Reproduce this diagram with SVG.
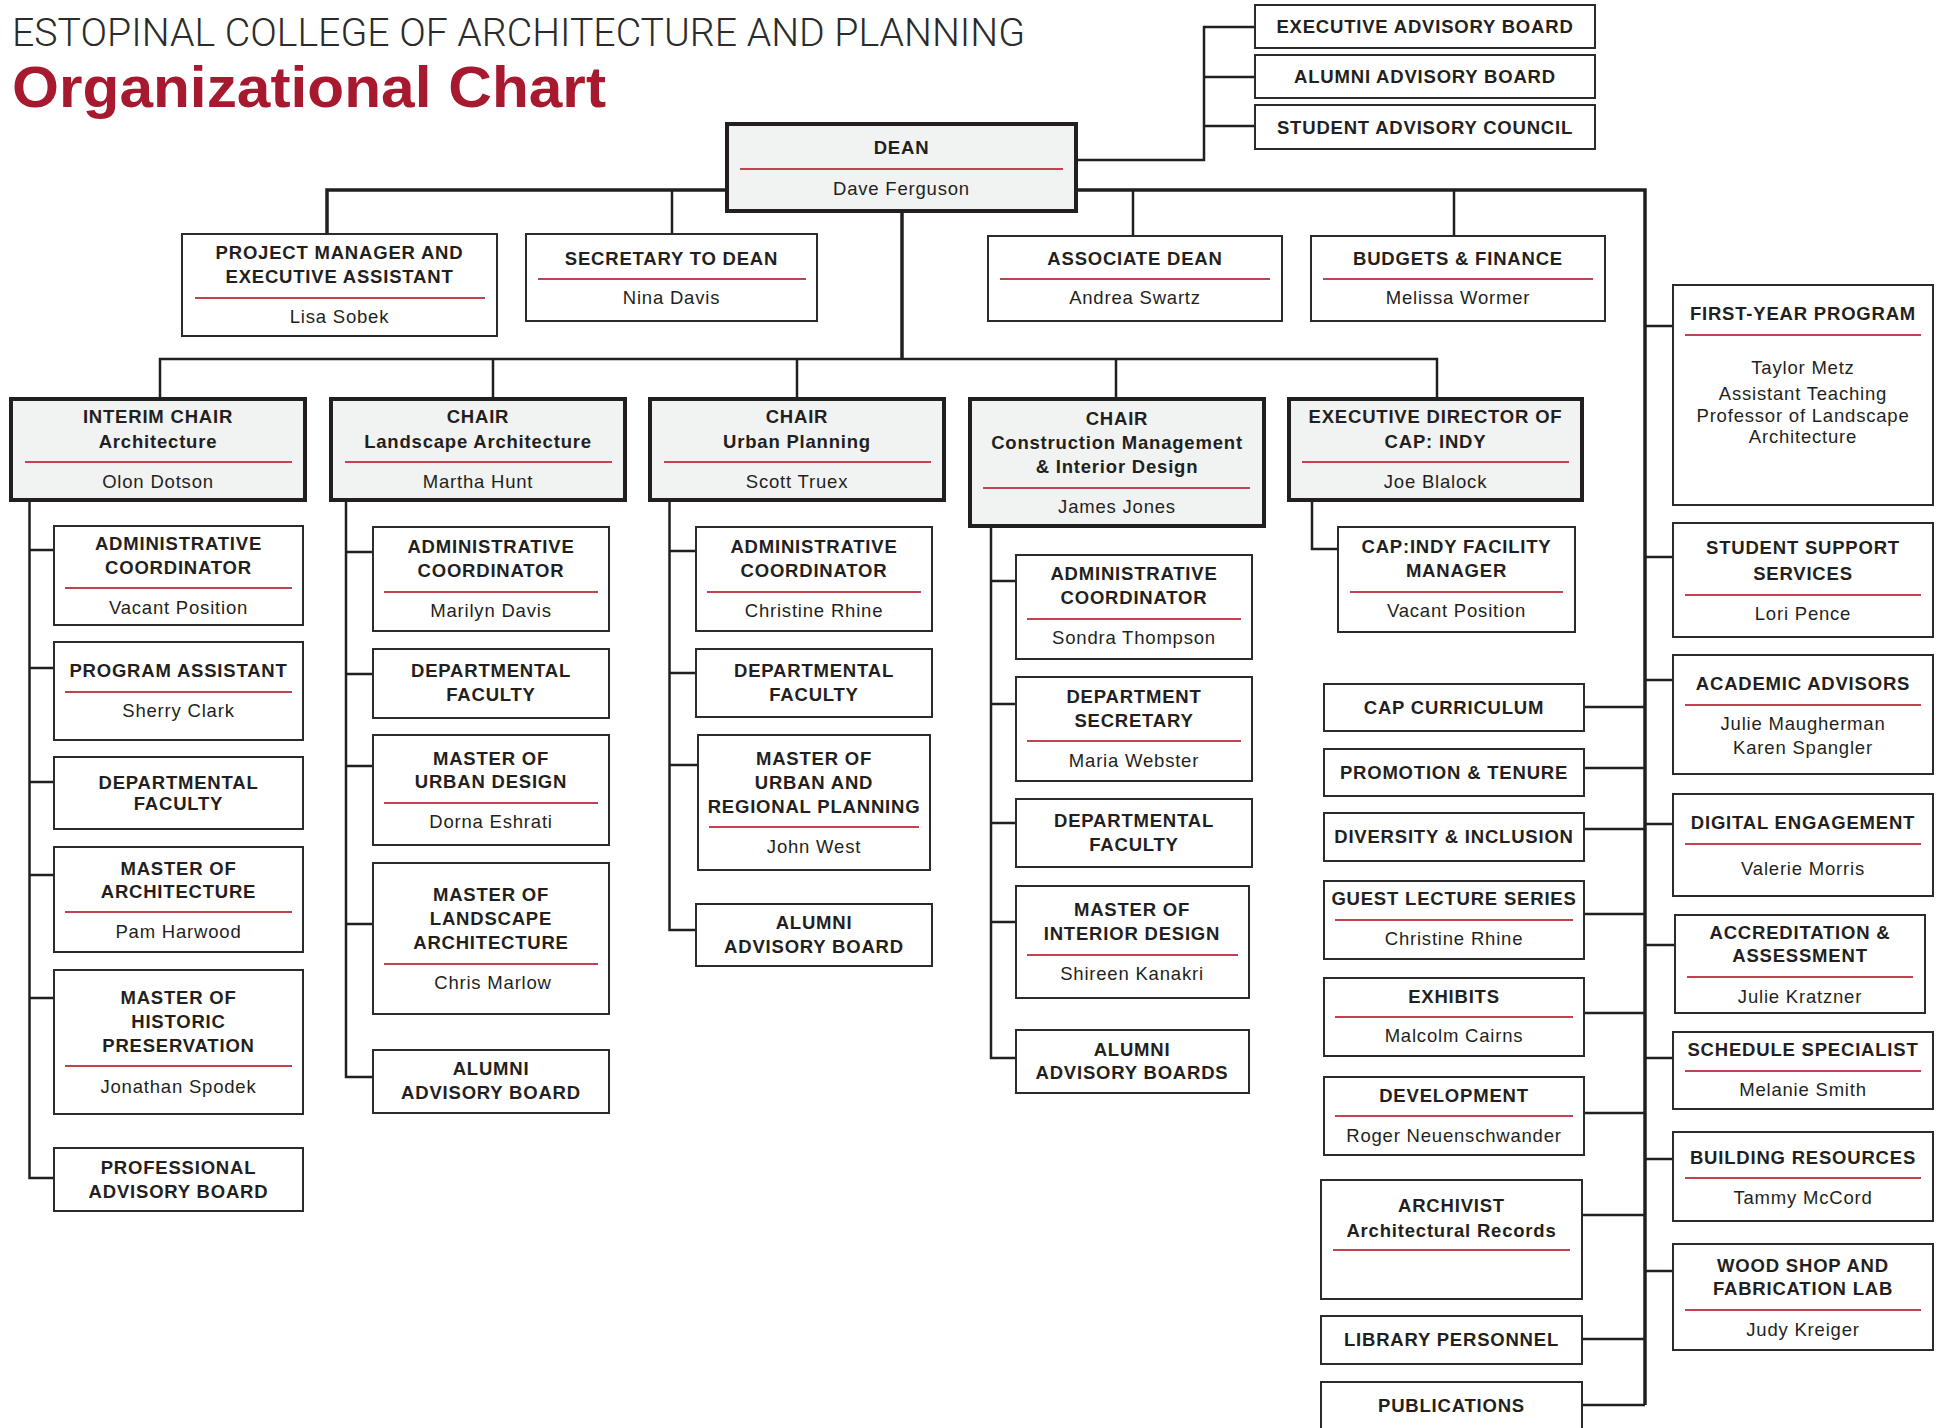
<svg xmlns="http://www.w3.org/2000/svg" width="1946" height="1428" viewBox="0 0 1946 1428">
  <style>
    .bg { fill: #ffffff; }
    .box { fill: #ffffff; stroke: #2b2b2b; stroke-width: 2; }
    .lead { fill: #f1f2f2; stroke: #231f20; stroke-width: 4; }
    .rule { stroke: #c0434f; stroke-width: 2; }
    .link { fill: none; stroke: #231f20; stroke-width: 2.5; }
    .main { fill: none; stroke: #231f20; stroke-width: 3.5; }
    text { font-family: "Liberation Sans", Arial, sans-serif; font-size: 18.5px; fill: #231f20; text-anchor: middle; letter-spacing: 0.8px; }
    .t { font-weight: 700; }
    .n { font-weight: 400; }
    .head1 { font-family: Roboto, "Liberation Sans", Arial, sans-serif; font-size: 38px; font-weight: 300; text-anchor: start; letter-spacing: 0; fill: #2b2b2b; }
    .head2 { font-size: 58px; font-weight: 700; text-anchor: start; letter-spacing: 0; fill: #a6192e; }
  </style>

  <rect class="bg" x="0" y="0" width="1946" height="1428"/>

  <!-- heading -->
  <g id="heading">
    <text class="head1" x="12" y="46" textLength="1013" lengthAdjust="spacingAndGlyphs">ESTOPINAL COLLEGE OF ARCHITECTURE AND PLANNING</text>
    <text class="head2" x="12" y="107" textLength="594" lengthAdjust="spacingAndGlyphs">Organizational Chart</text>
  </g>

  <!-- connectors -->
  <g id="connectors">
    <!-- dean to advisory bodies -->
    <path class="link" d="M1076 160 H1204 V27 H1255 M1204 77 H1255 M1204 126 H1255"/>
    <!-- dean staff bus and right-hand trunk -->
    <path class="main" d="M327 234 V190 H1645 V1405"/>
    <path class="link" d="M672 190 V234 M1133 190 V236 M1454 190 V236"/>
    <!-- dean to department chairs -->
    <path class="main" d="M902 211 V359"/>
    <path class="link" d="M160 399 V359 H1437 V399 M493 359 V399 M797 359 V399 M1116 359 V399"/>
    <!-- architecture -->
    <path class="link" d="M29.5 500 V1178 H54 M29.5 550 H54 M29.5 668 H54 M29.5 782 H54 M29.5 875 H54 M29.5 998 H54"/>
    <!-- landscape architecture -->
    <path class="link" d="M346 500 V1077 H373 M346 552 H373 M346 674 H373 M346 766 H373 M346 924 H373"/>
    <!-- urban planning -->
    <path class="link" d="M669.5 500 V930 H696 M669.5 551 H696 M669.5 673 H696 M669.5 765 H698"/>
    <!-- construction management & interior design -->
    <path class="link" d="M991 526 V1058 H1016 M991 581 H1016 M991 704 H1016 M991 823 H1016 M991 922 H1016"/>
    <!-- CAP: Indy -->
    <path class="link" d="M1312 500 V549 H1338"/>
    <!-- trunk, left branches -->
    <path class="link" d="M1584 707 H1645 M1584 768 H1645 M1584 829 H1645 M1584 914 H1645 M1584 1013 H1645 M1584 1113 H1645 M1582 1215 H1645 M1582 1339 H1645 M1582 1405 H1645"/>
    <!-- trunk, right branches -->
    <path class="link" d="M1645 326 H1673 M1645 557 H1673 M1645 680 H1673 M1645 824 H1673 M1645 945 H1675 M1645 1058 H1673 M1645 1159 H1673 M1645 1271 H1673"/>
  </g>

  <!-- advisory bodies -->
  <g id="executive-advisory-board">
    <rect class="box" x="1255" y="5" width="340" height="43"/>
    <text class="t" x="1425" y="33">EXECUTIVE ADVISORY BOARD</text>
  </g>
  <g id="alumni-advisory-board">
    <rect class="box" x="1255" y="55" width="340" height="43"/>
    <text class="t" x="1425" y="83">ALUMNI ADVISORY BOARD</text>
  </g>
  <g id="student-advisory-council">
    <rect class="box" x="1255" y="105" width="340" height="44"/>
    <text class="t" x="1425" y="134">STUDENT ADVISORY COUNCIL</text>
  </g>

  <!-- dean -->
  <g id="dean">
    <rect class="lead" x="727" y="124" width="349" height="87"/>
    <text class="t" x="901.5" y="154">DEAN</text>
    <line class="rule" x1="740" y1="169" x2="1063" y2="169"/>
    <text class="n" x="901.5" y="195">Dave Ferguson</text>
  </g>

  <!-- dean's staff -->
  <g id="project-manager">
    <rect class="box" x="182" y="234" width="315" height="102"/>
    <text class="t" x="339.5" y="259">PROJECT MANAGER AND</text>
    <text class="t" x="339.5" y="283">EXECUTIVE ASSISTANT</text>
    <line class="rule" x1="195" y1="298" x2="485" y2="298"/>
    <text class="n" x="339.5" y="323">Lisa Sobek</text>
  </g>
  <g id="secretary-to-dean">
    <rect class="box" x="526" y="234" width="291" height="87"/>
    <text class="t" x="671.5" y="265">SECRETARY TO DEAN</text>
    <line class="rule" x1="538" y1="279" x2="806" y2="279"/>
    <text class="n" x="671.5" y="304">Nina Davis</text>
  </g>
  <g id="associate-dean">
    <rect class="box" x="988" y="236" width="294" height="85"/>
    <text class="t" x="1135" y="265">ASSOCIATE DEAN</text>
    <line class="rule" x1="1000" y1="279" x2="1270" y2="279"/>
    <text class="n" x="1135" y="304">Andrea Swartz</text>
  </g>
  <g id="budgets-finance">
    <rect class="box" x="1311" y="236" width="294" height="85"/>
    <text class="t" x="1458" y="265">BUDGETS &amp; FINANCE</text>
    <line class="rule" x1="1323" y1="279" x2="1593" y2="279"/>
    <text class="n" x="1458" y="304">Melissa Wormer</text>
  </g>

  <!-- department chairs -->
  <g id="chair-architecture">
    <rect class="lead" x="11" y="399" width="294" height="101"/>
    <text class="t" x="158" y="423">INTERIM CHAIR</text>
    <text class="t" x="158" y="448">Architecture</text>
    <line class="rule" x1="25" y1="462" x2="292" y2="462"/>
    <text class="n" x="158" y="488">Olon Dotson</text>
  </g>
  <g id="chair-landscape-architecture">
    <rect class="lead" x="331" y="399" width="294" height="101"/>
    <text class="t" x="478" y="423">CHAIR</text>
    <text class="t" x="478" y="448">Landscape Architecture</text>
    <line class="rule" x1="345" y1="462" x2="612" y2="462"/>
    <text class="n" x="478" y="488">Martha Hunt</text>
  </g>
  <g id="chair-urban-planning">
    <rect class="lead" x="650" y="399" width="294" height="101"/>
    <text class="t" x="797" y="423">CHAIR</text>
    <text class="t" x="797" y="448">Urban Planning</text>
    <line class="rule" x1="664" y1="462" x2="931" y2="462"/>
    <text class="n" x="797" y="488">Scott Truex</text>
  </g>
  <g id="chair-construction-interior">
    <rect class="lead" x="970" y="399" width="294" height="127"/>
    <text class="t" x="1117" y="425">CHAIR</text>
    <text class="t" x="1117" y="449">Construction Management</text>
    <text class="t" x="1117" y="473">&amp; Interior Design</text>
    <line class="rule" x1="983" y1="488" x2="1250" y2="488"/>
    <text class="n" x="1117" y="513">James Jones</text>
  </g>
  <g id="director-cap-indy">
    <rect class="lead" x="1289" y="399" width="293" height="101"/>
    <text class="t" x="1435.5" y="423">EXECUTIVE DIRECTOR OF</text>
    <text class="t" x="1435.5" y="448">CAP: INDY</text>
    <line class="rule" x1="1302" y1="462" x2="1569" y2="462"/>
    <text class="n" x="1435.5" y="488">Joe Blalock</text>
  </g>

  <!-- architecture units -->
  <g id="arch-admin-coordinator">
    <rect class="box" x="54" y="526" width="249" height="99"/>
    <text class="t" x="178.5" y="550">ADMINISTRATIVE</text>
    <text class="t" x="178.5" y="574">COORDINATOR</text>
    <line class="rule" x1="65" y1="588" x2="292" y2="588"/>
    <text class="n" x="178.5" y="614">Vacant Position</text>
  </g>
  <g id="arch-program-assistant">
    <rect class="box" x="54" y="642" width="249" height="98"/>
    <text class="t" x="178.5" y="677">PROGRAM ASSISTANT</text>
    <line class="rule" x1="65" y1="692" x2="292" y2="692"/>
    <text class="n" x="178.5" y="717">Sherry Clark</text>
  </g>
  <g id="arch-faculty">
    <rect class="box" x="54" y="757" width="249" height="72"/>
    <text class="t" x="178.5" y="789">DEPARTMENTAL</text>
    <text class="t" x="178.5" y="810">FACULTY</text>
  </g>
  <g id="master-architecture">
    <rect class="box" x="54" y="847" width="249" height="105"/>
    <text class="t" x="178.5" y="875">MASTER OF</text>
    <text class="t" x="178.5" y="898">ARCHITECTURE</text>
    <line class="rule" x1="65" y1="912" x2="292" y2="912"/>
    <text class="n" x="178.5" y="938">Pam Harwood</text>
  </g>
  <g id="master-historic-preservation">
    <rect class="box" x="54" y="970" width="249" height="144"/>
    <text class="t" x="178.5" y="1004">MASTER OF</text>
    <text class="t" x="178.5" y="1028">HISTORIC</text>
    <text class="t" x="178.5" y="1052">PRESERVATION</text>
    <line class="rule" x1="65" y1="1066" x2="292" y2="1066"/>
    <text class="n" x="178.5" y="1093">Jonathan Spodek</text>
  </g>
  <g id="arch-professional-board">
    <rect class="box" x="54" y="1148" width="249" height="63"/>
    <text class="t" x="178.5" y="1174">PROFESSIONAL</text>
    <text class="t" x="178.5" y="1198">ADVISORY BOARD</text>
  </g>

  <!-- landscape architecture units -->
  <g id="la-admin-coordinator">
    <rect class="box" x="373" y="527" width="236" height="104"/>
    <text class="t" x="491" y="553">ADMINISTRATIVE</text>
    <text class="t" x="491" y="577">COORDINATOR</text>
    <line class="rule" x1="384" y1="592" x2="598" y2="592"/>
    <text class="n" x="491" y="617">Marilyn Davis</text>
  </g>
  <g id="la-faculty">
    <rect class="box" x="373" y="649" width="236" height="69"/>
    <text class="t" x="491" y="677">DEPARTMENTAL</text>
    <text class="t" x="491" y="701">FACULTY</text>
  </g>
  <g id="master-urban-design">
    <rect class="box" x="373" y="735" width="236" height="110"/>
    <text class="t" x="491" y="765">MASTER OF</text>
    <text class="t" x="491" y="788">URBAN DESIGN</text>
    <line class="rule" x1="384" y1="803" x2="598" y2="803"/>
    <text class="n" x="491" y="828">Dorna Eshrati</text>
  </g>
  <g id="master-landscape-architecture">
    <rect class="box" x="373" y="863" width="236" height="151"/>
    <text class="t" x="491" y="901">MASTER OF</text>
    <text class="t" x="491" y="925">LANDSCAPE</text>
    <text class="t" x="491" y="949">ARCHITECTURE</text>
    <line class="rule" x1="384" y1="964" x2="598" y2="964"/>
    <text class="n" x="493" y="989">Chris Marlow</text>
  </g>
  <g id="la-alumni-board">
    <rect class="box" x="373" y="1050" width="236" height="63"/>
    <text class="t" x="491" y="1075">ALUMNI</text>
    <text class="t" x="491" y="1099">ADVISORY BOARD</text>
  </g>

  <!-- urban planning units -->
  <g id="up-admin-coordinator">
    <rect class="box" x="696" y="527" width="236" height="104"/>
    <text class="t" x="814" y="553">ADMINISTRATIVE</text>
    <text class="t" x="814" y="577">COORDINATOR</text>
    <line class="rule" x1="707" y1="592" x2="921" y2="592"/>
    <text class="n" x="814" y="617">Christine Rhine</text>
  </g>
  <g id="up-faculty">
    <rect class="box" x="696" y="649" width="236" height="68"/>
    <text class="t" x="814" y="677">DEPARTMENTAL</text>
    <text class="t" x="814" y="701">FACULTY</text>
  </g>
  <g id="master-urban-regional-planning">
    <rect class="box" x="698" y="735" width="232" height="135"/>
    <text class="t" x="814" y="765">MASTER OF</text>
    <text class="t" x="814" y="789">URBAN AND</text>
    <text class="t" x="814" y="813">REGIONAL PLANNING</text>
    <line class="rule" x1="709" y1="827" x2="919" y2="827"/>
    <text class="n" x="814" y="853">John West</text>
  </g>
  <g id="up-alumni-board">
    <rect class="box" x="696" y="904" width="236" height="62"/>
    <text class="t" x="814" y="929">ALUMNI</text>
    <text class="t" x="814" y="953">ADVISORY BOARD</text>
  </g>

  <!-- construction management & interior design units -->
  <g id="cmid-admin-coordinator">
    <rect class="box" x="1016" y="555" width="236" height="104"/>
    <text class="t" x="1134" y="580">ADMINISTRATIVE</text>
    <text class="t" x="1134" y="604">COORDINATOR</text>
    <line class="rule" x1="1027" y1="619" x2="1241" y2="619"/>
    <text class="n" x="1134" y="644">Sondra Thompson</text>
  </g>
  <g id="cmid-department-secretary">
    <rect class="box" x="1016" y="677" width="236" height="104"/>
    <text class="t" x="1134" y="703">DEPARTMENT</text>
    <text class="t" x="1134" y="727">SECRETARY</text>
    <line class="rule" x1="1027" y1="741" x2="1241" y2="741"/>
    <text class="n" x="1134" y="767">Maria Webster</text>
  </g>
  <g id="cmid-faculty">
    <rect class="box" x="1016" y="799" width="236" height="68"/>
    <text class="t" x="1134" y="827">DEPARTMENTAL</text>
    <text class="t" x="1134" y="851">FACULTY</text>
  </g>
  <g id="master-interior-design">
    <rect class="box" x="1016" y="886" width="233" height="112"/>
    <text class="t" x="1132" y="916">MASTER OF</text>
    <text class="t" x="1132" y="940">INTERIOR DESIGN</text>
    <line class="rule" x1="1027" y1="955" x2="1238" y2="955"/>
    <text class="n" x="1132" y="980">Shireen Kanakri</text>
  </g>
  <g id="cmid-alumni-boards">
    <rect class="box" x="1016" y="1030" width="233" height="63"/>
    <text class="t" x="1132" y="1056">ALUMNI</text>
    <text class="t" x="1132" y="1079">ADVISORY BOARDS</text>
  </g>

  <!-- CAP: Indy unit -->
  <g id="cap-indy-facility-manager">
    <rect class="box" x="1338" y="527" width="237" height="105"/>
    <text class="t" x="1456.5" y="553">CAP:INDY FACILITY</text>
    <text class="t" x="1456.5" y="577">MANAGER</text>
    <line class="rule" x1="1350" y1="592" x2="1563" y2="592"/>
    <text class="n" x="1456.5" y="617">Vacant Position</text>
  </g>

  <!-- college-wide units, left of trunk -->
  <g id="cap-curriculum">
    <rect class="box" x="1324" y="684" width="260" height="47"/>
    <text class="t" x="1454" y="714">CAP CURRICULUM</text>
  </g>
  <g id="promotion-tenure">
    <rect class="box" x="1324" y="749" width="260" height="47"/>
    <text class="t" x="1454" y="779">PROMOTION &amp; TENURE</text>
  </g>
  <g id="diversity-inclusion">
    <rect class="box" x="1324" y="813" width="260" height="48"/>
    <text class="t" x="1454" y="843">DIVERSITY &amp; INCLUSION</text>
  </g>
  <g id="guest-lecture-series">
    <rect class="box" x="1324" y="881" width="260" height="78"/>
    <text class="t" x="1454" y="905">GUEST LECTURE SERIES</text>
    <line class="rule" x1="1335" y1="920" x2="1573" y2="920"/>
    <text class="n" x="1454" y="945">Christine Rhine</text>
  </g>
  <g id="exhibits">
    <rect class="box" x="1324" y="978" width="260" height="78"/>
    <text class="t" x="1454" y="1003">EXHIBITS</text>
    <line class="rule" x1="1335" y1="1017" x2="1573" y2="1017"/>
    <text class="n" x="1454" y="1042">Malcolm Cairns</text>
  </g>
  <g id="development">
    <rect class="box" x="1324" y="1077" width="260" height="78"/>
    <text class="t" x="1454" y="1102">DEVELOPMENT</text>
    <line class="rule" x1="1335" y1="1116" x2="1573" y2="1116"/>
    <text class="n" x="1454" y="1142">Roger Neuenschwander</text>
  </g>
  <g id="archivist">
    <rect class="box" x="1321" y="1180" width="261" height="119"/>
    <text class="t" x="1451.5" y="1212">ARCHIVIST</text>
    <text class="t" x="1451.5" y="1237">Architectural Records</text>
    <line class="rule" x1="1333" y1="1250" x2="1570" y2="1250"/>
  </g>
  <g id="library-personnel">
    <rect class="box" x="1321" y="1316" width="261" height="48"/>
    <text class="t" x="1451.5" y="1346">LIBRARY PERSONNEL</text>
  </g>
  <g id="publications">
    <rect class="box" x="1321" y="1382" width="261" height="60"/>
    <text class="t" x="1451.5" y="1412">PUBLICATIONS</text>
  </g>

  <!-- college-wide units, right of trunk -->
  <g id="first-year-program">
    <rect class="box" x="1673" y="285" width="260" height="220"/>
    <text class="t" x="1803" y="320">FIRST-YEAR PROGRAM</text>
    <line class="rule" x1="1685" y1="335" x2="1921" y2="335"/>
    <text class="n" x="1803" y="374">Taylor Metz</text>
    <text class="n" x="1803" y="400">Assistant Teaching</text>
    <text class="n" x="1803" y="422">Professor of Landscape</text>
    <text class="n" x="1803" y="443">Architecture</text>
  </g>
  <g id="student-support-services">
    <rect class="box" x="1673" y="523" width="260" height="114"/>
    <text class="t" x="1803" y="554">STUDENT SUPPORT</text>
    <text class="t" x="1803" y="580">SERVICES</text>
    <line class="rule" x1="1685" y1="595" x2="1921" y2="595"/>
    <text class="n" x="1803" y="620">Lori Pence</text>
  </g>
  <g id="academic-advisors">
    <rect class="box" x="1673" y="655" width="260" height="119"/>
    <text class="t" x="1803" y="690">ACADEMIC ADVISORS</text>
    <line class="rule" x1="1685" y1="705" x2="1921" y2="705"/>
    <text class="n" x="1803" y="730">Julie Maugherman</text>
    <text class="n" x="1803" y="754">Karen Spangler</text>
  </g>
  <g id="digital-engagement">
    <rect class="box" x="1673" y="794" width="260" height="102"/>
    <text class="t" x="1803" y="829">DIGITAL ENGAGEMENT</text>
    <line class="rule" x1="1685" y1="844" x2="1921" y2="844"/>
    <text class="n" x="1803" y="875">Valerie Morris</text>
  </g>
  <g id="accreditation-assessment">
    <rect class="box" x="1675" y="915" width="250" height="98"/>
    <text class="t" x="1800" y="939">ACCREDITATION &amp;</text>
    <text class="t" x="1800" y="962">ASSESSMENT</text>
    <line class="rule" x1="1687" y1="977" x2="1913" y2="977"/>
    <text class="n" x="1800" y="1003">Julie Kratzner</text>
  </g>
  <g id="schedule-specialist">
    <rect class="box" x="1673" y="1032" width="260" height="77"/>
    <text class="t" x="1803" y="1056">SCHEDULE SPECIALIST</text>
    <line class="rule" x1="1685" y1="1071" x2="1921" y2="1071"/>
    <text class="n" x="1803" y="1096">Melanie Smith</text>
  </g>
  <g id="building-resources">
    <rect class="box" x="1673" y="1132" width="260" height="89"/>
    <text class="t" x="1803" y="1164">BUILDING RESOURCES</text>
    <line class="rule" x1="1685" y1="1178" x2="1921" y2="1178"/>
    <text class="n" x="1803" y="1204">Tammy McCord</text>
  </g>
  <g id="wood-shop">
    <rect class="box" x="1673" y="1244" width="260" height="106"/>
    <text class="t" x="1803" y="1272">WOOD SHOP AND</text>
    <text class="t" x="1803" y="1295">FABRICATION LAB</text>
    <line class="rule" x1="1685" y1="1310" x2="1921" y2="1310"/>
    <text class="n" x="1803" y="1336">Judy Kreiger</text>
  </g>
</svg>
